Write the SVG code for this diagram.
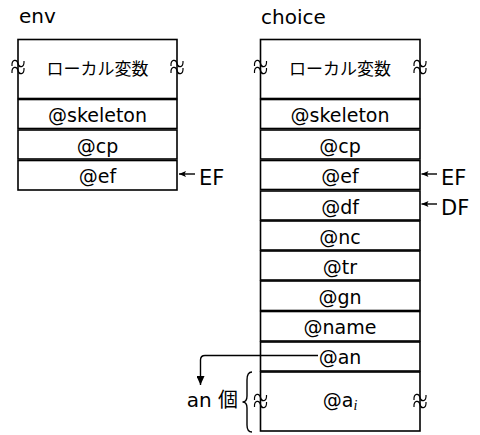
<svg xmlns="http://www.w3.org/2000/svg" width="480" height="435" viewBox="0 0 480 435">
<style>
text{font-family:"DejaVu Sans","Noto Sans CJK JP",sans-serif;fill:#000}
.lbl{font-size:20px}
.cell{font-size:19px;text-anchor:middle}
.jp{font-size:17px;text-anchor:middle}
.big{font-size:21px}
rect{fill:#fff;stroke:#000;stroke-width:1.6}
.ln{fill:none;stroke:#000;stroke-width:1.4}
.wv{fill:none;stroke:#000;stroke-width:1.2}
</style>
<defs>
<marker id="ah" markerUnits="userSpaceOnUse" markerWidth="8" markerHeight="6" refX="7" refY="3" orient="auto">
<path d="M0,0 L7,3 L0,6 L1.5,3 z" fill="#000"/>
</marker>
<marker id="ah2" markerUnits="userSpaceOnUse" markerWidth="10" markerHeight="8" refX="9" refY="4" orient="auto">
<path d="M0,0 L9,4 L0,8 z" fill="#000"/>
</marker>
<g id="wave">
<path class="wv" d="M-6,-1 C-6.5,-8 -1,-8 0,-3.5 C1,1 6.5,1 6,-6"/>
<path class="wv" d="M-6,6 C-6.5,-1 -1,-1 0,3.5 C1,8 6.5,8 6,1"/>
</g>
</defs>

<text class="lbl" x="19" y="23">env</text>
<text class="lbl" x="261" y="24">choice</text>

<g id="env">
<g id="env-local">
<rect x="18" y="39.5" width="159" height="59"/>
<text class="jp" x="97.5" y="75">ローカル変数</text>
<use href="#wave" x="18" y="67"/>
<use href="#wave" x="177" y="67"/>
</g>
<g id="env-skeleton"><rect x="18" y="99.5" width="159" height="29"/><text class="cell" x="97.5" y="122">@skeleton</text></g>
<g id="env-cp"><rect x="18" y="130" width="159" height="29"/><text class="cell" x="97.5" y="152.5">@cp</text></g>
<g id="env-ef"><rect x="18" y="160.5" width="159" height="29.5"/><text class="cell" x="97.5" y="183">@ef</text></g>
</g>

<g id="choice">
<g id="choice-local">
<rect x="260.5" y="39.5" width="159.5" height="59"/>
<text class="jp" x="340" y="75">ローカル変数</text>
<use href="#wave" x="260.5" y="67"/>
<use href="#wave" x="420" y="67"/>
</g>
<g id="choice-skeleton"><rect x="260.5" y="99.5" width="159.5" height="29"/><text class="cell" x="340" y="122">@skeleton</text></g>
<g id="choice-cp"><rect x="260.5" y="130" width="159.5" height="29"/><text class="cell" x="340" y="152.5">@cp</text></g>
<g id="choice-ef"><rect x="260.5" y="160.5" width="159.5" height="29"/><text class="cell" x="340" y="183">@ef</text></g>
<g id="choice-df"><rect x="260.5" y="191" width="159.5" height="29"/><text class="cell" x="340" y="213.5">@df</text></g>
<g id="choice-nc"><rect x="260.5" y="221" width="159.5" height="29"/><text class="cell" x="340" y="243.5">@nc</text></g>
<g id="choice-tr"><rect x="260.5" y="251" width="159.5" height="29"/><text class="cell" x="340" y="273.5">@tr</text></g>
<g id="choice-gn"><rect x="260.5" y="281" width="159.5" height="29.5"/><text class="cell" x="340" y="303.5">@gn</text></g>
<g id="choice-name"><rect x="260.5" y="311.5" width="159.5" height="29.5"/><text class="cell" x="340" y="334">@name</text></g>
<g id="choice-an"><rect x="260.5" y="342" width="159.5" height="29"/><text class="cell" x="340" y="364">@an</text></g>
<g id="choice-ai">
<rect x="260.5" y="372" width="159.5" height="59"/>
<text class="cell" x="340" y="407">@a<tspan font-family="Liberation Serif" font-style="italic" font-size="14" dy="3">i</tspan></text>
<use href="#wave" x="260.5" y="401"/>
<use href="#wave" x="420" y="401"/>
</g>
</g>

<g id="connectors">
<line class="ln" x1="195" y1="174" x2="179" y2="174" marker-end="url(#ah)"/>
<line class="ln" x1="437" y1="174" x2="421.5" y2="174" marker-end="url(#ah)"/>
<line class="ln" x1="437" y1="204" x2="421.5" y2="204" marker-end="url(#ah)"/>
<path class="ln" d="M318,355.5 H205 Q200.5,355.5 200.5,360 V385" marker-end="url(#ah2)"/>
<path class="ln" d="M252,372 Q247,372 247,380 L247,396 Q247,402 242.5,402 Q247,402 247,408 L247,425 Q247,432 252,432"/>
</g>

<text class="big" x="199" y="185">EF</text>
<text class="big" x="441" y="185">EF</text>
<text class="big" x="441" y="215">DF</text>
<text class="lbl" x="238" y="407" text-anchor="end">an 個</text>
</svg>
